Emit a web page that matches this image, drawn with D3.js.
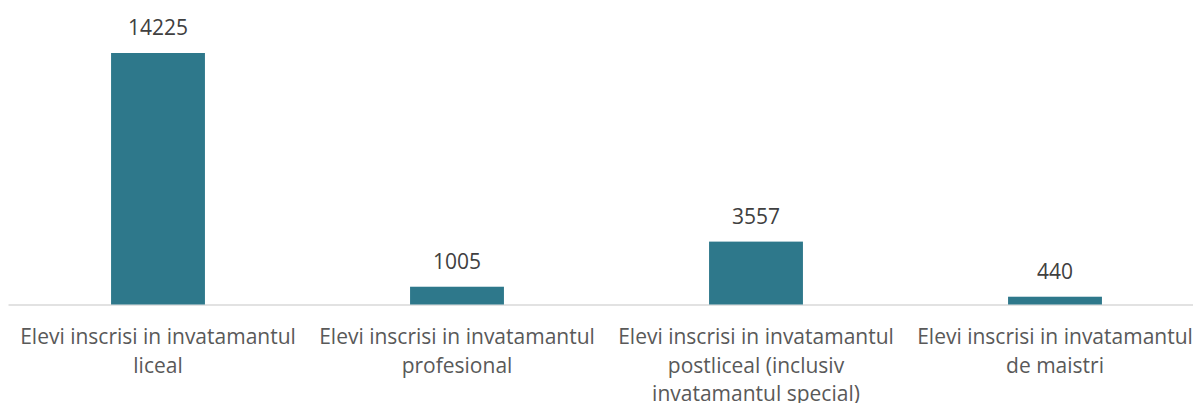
<!DOCTYPE html>
<html>
<head>
<meta charset="utf-8">
<script src="https://cdn.jsdelivr.net/npm/d3@7"></script>
<style>
  html, body { margin: 0; padding: 0; background: #fff; }
</style>
</head>
<body>
<script>
const categories = [
  "Elevi inscrisi in invatamantul liceal",
  "Elevi inscrisi in invatamantul profesional",
  "Elevi inscrisi in invatamantul postliceal (inclusiv invatamantul special)",
  "Elevi inscrisi in invatamantul de maistri"
];
const values = [14225, 1005, 3557, 440];

const width = 1193, height = 403;
const baseline = 304.5, plotTop = 53;

const x = d3.scaleBand()
    .domain(categories)
    .range([8.5, 1204.5])
    .paddingInner(0.686)
    .paddingOuter(0.343);

const y = d3.scaleLinear()
    .domain([0, 14225])
    .range([baseline, plotTop]);

const svg = d3.select("body").append("svg")
    .attr("width", width)
    .attr("height", height)
    .style("font-family", "'Open Sans', sans-serif");

svg.append("line")
    .attr("x1", 8.5).attr("x2", 1204.5)
    .attr("y1", baseline + 0.5).attr("y2", baseline + 0.5)
    .attr("stroke", "#d9d9d9")
    .attr("stroke-width", 1.5);

svg.selectAll("rect")
  .data(values)
  .join("rect")
    .attr("x", (d, i) => x(categories[i]))
    .attr("width", x.bandwidth())
    .attr("y", d => y(d))
    .attr("height", d => baseline - y(d))
    .attr("fill", "#2e788b");

svg.selectAll("text.val")
  .data(values)
  .join("text")
    .attr("class", "val")
    .attr("x", (d, i) => x(categories[i]) + x.bandwidth() / 2)
    .attr("y", d => y(d) - 18)
    .attr("text-anchor", "middle")
    .attr("fill", "#404040")
    .style("font-size", "21px")
    .text(d => d);

// category labels, wrapped to the band step
const maxW = 290;
const lab = svg.selectAll("text.cat")
  .data(categories)
  .join("text")
    .attr("class", "cat")
    .attr("text-anchor", "middle")
    .attr("fill", "#595959")
    .style("font-size", "21px");

lab.each(function(d) {
  const t = d3.select(this);
  const cx = x(d) + x.bandwidth() / 2;
  const words = d.split(" ");
  let line = [], lineNo = 0;
  let ts = t.append("tspan").attr("x", cx).attr("y", 344);
  for (const w of words) {
    line.push(w);
    ts.text(line.join(" "));
    if (ts.node().getComputedTextLength() > maxW && line.length > 1) {
      line.pop();
      ts.text(line.join(" "));
      line = [w];
      lineNo++;
      ts = t.append("tspan").attr("x", cx).attr("y", 344 + lineNo * 28.5).text(w);
    }
  }
});
</script>
</body>
</html>
